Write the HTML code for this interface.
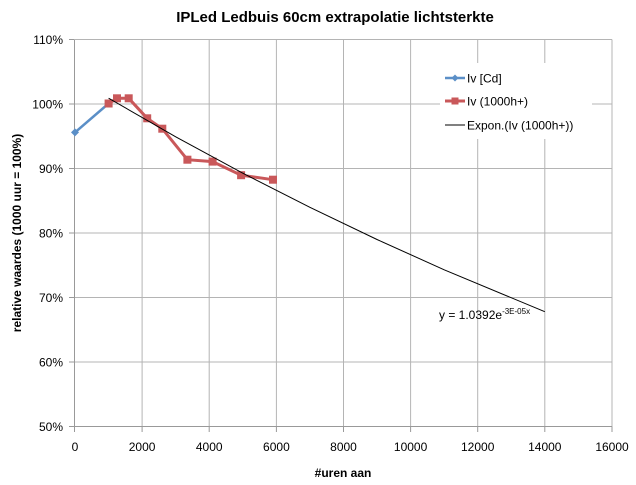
<!DOCTYPE html>
<html><head><meta charset="utf-8"><style>
html,body{margin:0;padding:0;background:#fff;}
svg{display:block;font-family:"Liberation Sans",sans-serif;}
</style></head><body>
<svg width="636" height="485" viewBox="0 0 636 485" xmlns="http://www.w3.org/2000/svg">
<rect width="636" height="485" fill="#fff"/>
<text x="335" y="22" text-anchor="middle" font-size="15" font-weight="bold" fill="#000">IPLed Ledbuis 60cm extrapolatie lichtsterkte</text>
<g stroke="#b4b4b4" stroke-width="1">
<line x1="75" y1="39.5" x2="612" y2="39.5"/>
<line x1="75" y1="104" x2="612" y2="104"/>
<line x1="75" y1="168.5" x2="612" y2="168.5"/>
<line x1="75" y1="233" x2="612" y2="233"/>
<line x1="75" y1="297.5" x2="612" y2="297.5"/>
<line x1="75" y1="362" x2="612" y2="362"/>
<line x1="142.1" y1="39.5" x2="142.1" y2="426.5"/>
<line x1="209.2" y1="39.5" x2="209.2" y2="426.5"/>
<line x1="276.4" y1="39.5" x2="276.4" y2="426.5"/>
<line x1="343.5" y1="39.5" x2="343.5" y2="426.5"/>
<line x1="410.6" y1="39.5" x2="410.6" y2="426.5"/>
<line x1="477.7" y1="39.5" x2="477.7" y2="426.5"/>
<line x1="544.8" y1="39.5" x2="544.8" y2="426.5"/>
<line x1="612" y1="39.5" x2="612" y2="426.5"/>
</g>
<g stroke="#999" stroke-width="1">
<line x1="74.5" y1="39.5" x2="74.5" y2="426.5"/>
<line x1="74.5" y1="426.5" x2="612" y2="426.5"/>
<line x1="69" y1="39.5" x2="74.5" y2="39.5"/><line x1="69" y1="104" x2="74.5" y2="104"/>
<line x1="69" y1="168.5" x2="74.5" y2="168.5"/><line x1="69" y1="233" x2="74.5" y2="233"/>
<line x1="69" y1="297.5" x2="74.5" y2="297.5"/><line x1="69" y1="362" x2="74.5" y2="362"/>
<line x1="69" y1="426.5" x2="74.5" y2="426.5"/>
<line x1="74.5" y1="426.5" x2="74.5" y2="432"/><line x1="142.1" y1="426.5" x2="142.1" y2="432"/>
<line x1="209.2" y1="426.5" x2="209.2" y2="432"/><line x1="276.4" y1="426.5" x2="276.4" y2="432"/>
<line x1="343.5" y1="426.5" x2="343.5" y2="432"/><line x1="410.6" y1="426.5" x2="410.6" y2="432"/>
<line x1="477.7" y1="426.5" x2="477.7" y2="432"/><line x1="544.8" y1="426.5" x2="544.8" y2="432"/>
<line x1="612" y1="426.5" x2="612" y2="432"/>
</g>
<g font-size="12" fill="#000" text-anchor="end">
<text x="63" y="44">110%</text><text x="63" y="108.5">100%</text><text x="63" y="173">90%</text>
<text x="63" y="237.5">80%</text><text x="63" y="302">70%</text><text x="63" y="366.5">60%</text><text x="63" y="431">50%</text>
</g>
<g font-size="12" fill="#000" text-anchor="middle">
<text x="75" y="451">0</text><text x="142.1" y="451">2000</text><text x="209.2" y="451">4000</text>
<text x="276.4" y="451">6000</text><text x="343.5" y="451">8000</text><text x="410.6" y="451">10000</text>
<text x="477.7" y="451">12000</text><text x="544.8" y="451">14000</text><text x="612" y="451">16000</text>
</g>
<text x="343" y="477" text-anchor="middle" font-size="12" font-weight="bold">#uren aan</text>
<text transform="translate(21,233) rotate(-90)" text-anchor="middle" font-size="12" font-weight="bold">relative waardes (1000 uur = 100%)</text>
<polyline points="75,132.4 108.6,103.5" fill="none" stroke="#5b8fc7" stroke-width="2.5"/>
<polygon points="75,128.4 79,132.4 75,136.4 71,132.4" fill="#5b8fc7"/>
<polygon points="108.6,99.5 112.6,103.5 108.6,107.5 104.6,103.5" fill="#5b8fc7"/>
<polyline points="108.6,103.5 117,98.3 128.7,98.3 147.2,118.3 162.3,128.7 187.4,159.7 212.6,161.6 241.1,175.2 273,179.7" fill="none" stroke="#c9585a" stroke-width="3"/>
<g fill="#c9585a">
<rect x="104.6" y="99.5" width="8" height="8"/><rect x="113" y="94.3" width="8" height="8"/>
<rect x="124.7" y="94.3" width="8" height="8"/><rect x="143.2" y="114.3" width="8" height="8"/>
<rect x="158.3" y="124.7" width="8" height="8"/><rect x="183.4" y="155.7" width="8" height="8"/>
<rect x="208.6" y="157.6" width="8" height="8"/><rect x="237.1" y="171.2" width="8" height="8"/>
<rect x="269" y="175.7" width="8" height="8"/>
</g>
<polyline points="108.6,98.2 175.7,136.8 242.8,173.2 309.9,207.3 377,239.5 444.2,269.8 544.8,311.7" fill="none" stroke="#000" stroke-width="1"/>
<text x="439" y="319" font-size="12">y = 1.0392e<tspan font-size="8" dy="-5">-3E-05x</tspan></text>
<rect x="440" y="63" width="152" height="76" fill="#fff"/>
<line x1="445" y1="78" x2="465" y2="78" stroke="#5b8fc7" stroke-width="2.5"/>
<polygon points="455,74.5 458.5,78 455,81.5 451.5,78" fill="#5b8fc7"/>
<text x="467" y="82.5" font-size="12">Iv [Cd]</text>
<line x1="445" y1="101" x2="465" y2="101" stroke="#c9585a" stroke-width="3"/>
<rect x="451.5" y="97.5" width="7" height="7" fill="#c9585a"/>
<text x="467" y="105.5" font-size="12">Iv (1000h+)</text>
<line x1="445" y1="125" x2="465" y2="125" stroke="#000" stroke-width="1"/>
<text x="467" y="129.5" font-size="12">Expon.(Iv (1000h+))</text>
</svg>
</body></html>
